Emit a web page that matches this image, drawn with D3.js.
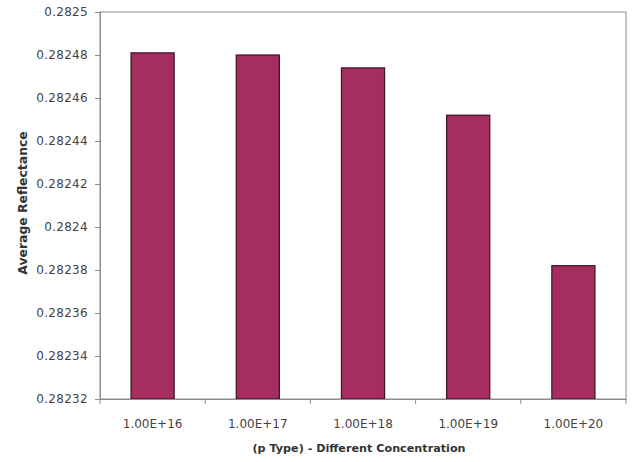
<!DOCTYPE html>
<html>
<head>
<meta charset="utf-8">
<script src="https://cdn.jsdelivr.net/npm/d3@7"></script>
<style>
  html, body { margin: 0; padding: 0; background: #ffffff; }
  svg { display: block; }
  text { font-family: "DejaVu Sans", Verdana, sans-serif; }
</style>
</head>
<body>
<svg id="chart" width="633" height="462"></svg>
<script>
const categories = ["1.00E+16", "1.00E+17", "1.00E+18", "1.00E+19", "1.00E+20"];
const values = [0.282481, 0.28248, 0.282474, 0.282452, 0.282382];
const yTicks = [0.28232, 0.28234, 0.28236, 0.28238, 0.2824, 0.28242, 0.28244, 0.28246, 0.28248, 0.2825];
const yTickLabels = ["0.28232", "0.28234", "0.28236", "0.28238", "0.2824", "0.28242", "0.28244", "0.28246", "0.28248", "0.2825"];
const xTitle = "(p Type) - Different Concentration";
const yTitle = "Average Reflectance";

const svg = d3.select("#chart");
const m = { left: 100, top: 12, right: 626, bottom: 399 };

const x = d3.scaleBand().domain(categories).range([m.left, m.right]).paddingInner(0.59).paddingOuter(0.295);
const xb = d3.scaleBand().domain(categories).range([m.left, m.right]);
const y = d3.scaleLinear().domain([0.28232, 0.2825]).range([m.bottom, m.top]);

// plot border
svg.append("rect")
  .attr("x", m.left).attr("y", m.top)
  .attr("width", m.right - m.left).attr("height", m.bottom - m.top)
  .attr("fill", "none").attr("stroke", "#8c8c8c").attr("stroke-width", 1);

// bars
svg.append("g").selectAll("rect").data(values).join("rect")
  .attr("x", (d, i) => x(categories[i]))
  .attr("y", d => y(d))
  .attr("width", x.bandwidth())
  .attr("height", d => m.bottom - y(d))
  .attr("fill", "#a52d60")
  .attr("stroke", "#3a1424")
  .attr("stroke-width", 1.2);

// y axis
const yAxis = d3.axisLeft(y).tickValues(yTicks).tickFormat((d, i) => yTickLabels[i]).tickSize(5).tickPadding(7);
const gy = svg.append("g").attr("transform", `translate(${m.left},0)`).call(yAxis);
gy.select(".domain").attr("stroke", "#8c8c8c");
gy.selectAll(".tick line").attr("stroke", "#8c8c8c");
gy.selectAll("text").attr("font-size", 12).attr("letter-spacing", 0.3).attr("fill", "#444").attr("font-family", "DejaVu Sans");

// x axis
const xAxis = d3.axisBottom(xb).tickSize(0).tickPadding(20);
const gx = svg.append("g").attr("transform", `translate(0,${m.bottom})`).call(xAxis);
gx.select(".domain").attr("stroke", "#8c8c8c");
gx.selectAll("text").attr("font-size", 12).attr("fill", "#444").attr("font-family", "DejaVu Sans");
// boundary ticks
const bounds = categories.map(c => xb(c)).concat([m.right]);
svg.append("g").selectAll("line").data(bounds).join("line")
  .attr("x1", d => d).attr("x2", d => d)
  .attr("y1", m.bottom).attr("y2", m.bottom + 5)
  .attr("stroke", "#8c8c8c");

// titles
svg.append("text")
  .attr("x", 359).attr("y", 452)
  .attr("text-anchor", "middle")
  .attr("font-size", 11.2).attr("font-weight", "bold").attr("fill", "#333")
  .text(xTitle);

svg.append("text")
  .attr("transform", "translate(27,203) rotate(-90)")
  .attr("text-anchor", "middle")
  .attr("font-size", 12.4).attr("font-weight", "bold").attr("fill", "#333")
  .text(yTitle);
</script>
</body>
</html>
